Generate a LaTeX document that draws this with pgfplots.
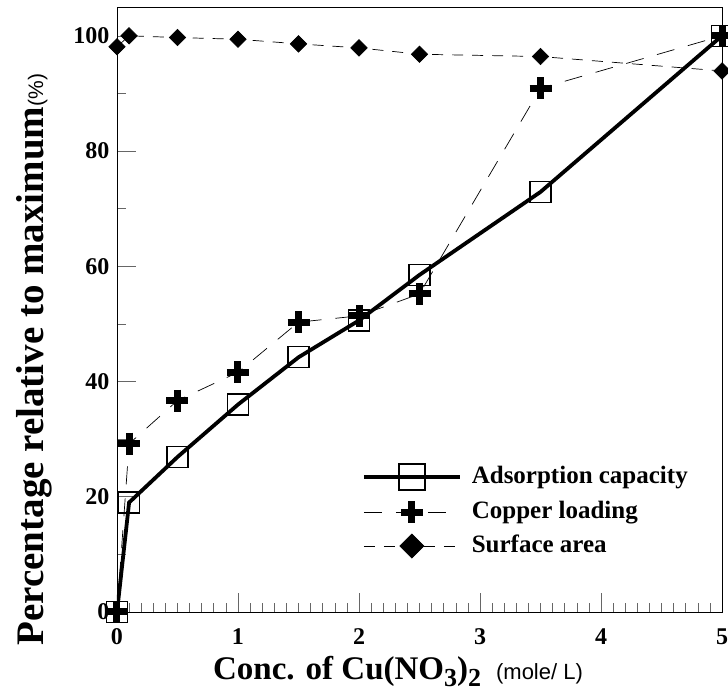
\documentclass[border=0pt]{standalone}
\usepackage{fontspec}
\setmainfont{Liberation Serif}
\newfontfamily\sansfont{Liberation Sans}
\usepackage{pgfplots}
\pgfplotsset{compat=1.18}

\begin{document}
\begin{tikzpicture}
\begin{axis}[
  scale only axis, width=605pt, height=605pt,
  xmin=0, xmax=5, ymin=0, ymax=105,
  xtick={0,1,2,3,4,5}, minor x tick num=9,
  ytick={0,20,40,60,80,100}, minor y tick num=1,
  tick pos=left, tick align=inside,
  major tick length=19pt, minor tick length=9pt,
  tick style={black!60, line width=0.6pt},
  axis line style={line width=0.9pt},
  /pgf/number format/assume math mode=true,
  ticklabel style={font=\fontsize{24}{24}\selectfont\bfseries},
  xticklabel style={yshift=-13pt},
  yticklabel style={xshift=-4pt},
  xlabel={{\fontsize{33}{33}\selectfont\bfseries Conc. of Cu(NO\raisebox{-7pt}{\fontsize{26}{26}\selectfont 3})\raisebox{-7pt}{\fontsize{26}{26}\selectfont 2}}\hspace{15pt}{\sansfont\fontsize{22}{22}\selectfont (mole/ L)}},
  xlabel style={at={(axis description cs:0.4645,-0.1124)}, anchor=base, inner sep=0pt},
  ylabel={{\fontsize{39}{39}\selectfont\bfseries Percentage relative to maximum}{\sansfont\fontsize{21}{21}\selectfont (\%)}},
  ylabel style={at={(axis description cs:-0.1223,0.417)}, anchor=base, inner sep=0pt},
  legend style={draw=none, fill=none, at={(axis description cs:0.405,0.2446)}, anchor=north west,
    inner sep=0pt, outer sep=0pt, row sep=11pt, column sep=10pt,
    font=\fontsize{25}{25}\selectfont\bfseries,
    nodes={inner sep=0pt, text height=17pt, text depth=5pt, anchor=west}},
  legend cell align=left,
  legend image code/.code={\draw[mark repeat=2,mark phase=2,#1] plot coordinates {(0pt,0pt) (48pt,0pt) (96pt,0pt)};},
]
% adsorption capacity
\addplot[black, line width=3.8pt, mark=square, mark size=10.5pt,
  mark options={solid, line width=1.3pt},
  legend image post style={mark size=13pt}]
  coordinates {(0,0) (0.1,19.0) (0.5,26.9) (1,36.0) (1.5,44.2) (2,50.6) (2.5,58.5) (3.5,72.9) (5,100)};
\addlegendentry{Adsorption capacity}
% copper loading
\addplot[black, line width=0.7pt, dash pattern=on 18pt off 14pt, mark=+, mark size=11pt,
  mark options={solid, line width=7pt}]
  coordinates {(0,0) (0.1,29.2) (0.5,36.7) (1,41.6) (1.5,50.3) (2,51.4) (2.5,55.2) (3.5,90.9) (5,100)};
\addlegendentry{Copper loading}
% surface area
\addplot[black, line width=0.7pt, dash pattern=on 11pt off 9pt, mark=square*, mark size=5.8pt,
  mark options={solid, rotate=45, fill=black},
  legend image post style={mark size=8.5pt}]
  coordinates {(0,98.1) (0.1,100) (0.5,99.7) (1,99.4) (1.5,98.6) (2,97.9) (2.5,96.8) (3.5,96.4) (5,93.9)};
\addlegendentry{Surface area}
\end{axis}
\pgfresetboundingbox
\path[use as bounding box] ([xshift=-117pt,yshift=-81pt]current axis.south west)
  rectangle ([xshift=6pt,yshift=7pt]current axis.north east);
\end{tikzpicture}
\end{document}
